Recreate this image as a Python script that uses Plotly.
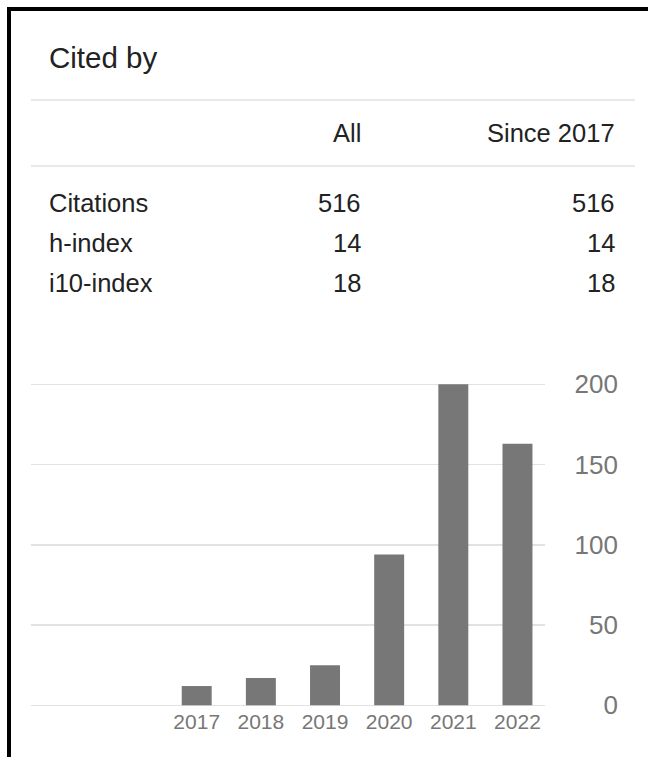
import plotly.graph_objects as go

# ---- data ----
years = [2017, 2018, 2019, 2020, 2021, 2022]
year_labels = ["2017", "2018", "2019", "2020", "2021", "2022"]
citations_per_year = [12, 17, 25, 94, 200, 163]
y_ticks = [0, 50, 100, 150, 200]

title_text = "Cited by"
col_headers = ["All", "Since 2017"]
row_labels = ["Citations", "h-index", "i10-index"]
vals_all = ["516", "14", "18"]
vals_since = ["516", "14", "18"]

# ---- geometry ----
W_FIG, H_FIG = 648, 757
L, R, T, B = 31, 0, 381, 50
PW = W_FIG - L - R
PH = H_FIG - T - B
PLOT_BOTTOM = H_FIG - B
Y0_PX, PPU = 705.3, 1.605  # pixel of value 0, pixels per unit
Y_MIN = -(PLOT_BOTTOM - Y0_PX) / PPU
Y_MAX = (Y0_PX - T) / PPU


def fx(px):
    return (px - L) / PW


def fy(py):
    return (PLOT_BOTTOM - py) / PH


FONT = "Arial, Liberation Sans, Helvetica, sans-serif"
DARK = "#222222"
GRAY = "#777777"
LINE = "#e2e2e2"

fig = go.Figure()
fig.add_trace(go.Bar(
    x=years, y=citations_per_year, width=0.467,
    marker=dict(color=GRAY, line=dict(width=0)),
    hoverinfo="skip",
))

ann = []
ann.append(dict(text=title_text, x=fx(47), y=fy(57.0), xanchor="left", yanchor="middle",
                font=dict(family=FONT, size=29.5, color=DARK)))
hdr_x = [fx(363), fx(617)]
for h, xx in zip(col_headers, hdr_x):
    ann.append(dict(text=h, x=xx, y=fy(132.8), xanchor="right", yanchor="middle",
                    font=dict(family=FONT, size=25.5, color=DARK)))
row_y = [202.8, 242.8, 282.8]
for lab, va, vs, yy in zip(row_labels, vals_all, vals_since, row_y):
    ann.append(dict(text=lab, x=fx(47), y=fy(yy), xanchor="left", yanchor="middle",
                    font=dict(family=FONT, size=25.5, color=DARK)))
    ann.append(dict(text=va, x=hdr_x[0], y=fy(yy), xanchor="right", yanchor="middle",
                    font=dict(family=FONT, size=25.5, color=DARK)))
    ann.append(dict(text=vs, x=hdr_x[1], y=fy(yy), xanchor="right", yanchor="middle",
                    font=dict(family=FONT, size=25.5, color=DARK)))
for a in ann:
    a.update(xref="paper", yref="paper", showarrow=False)

shapes = []
for yy in [100, 166]:
    shapes.append(dict(type="line", xref="paper", yref="paper",
                       x0=fx(31), x1=fx(635), y0=fy(yy), y1=fy(yy),
                       line=dict(color=LINE, width=1.5)))
# black frame (top and left edges visible)
shapes.append(dict(type="rect", xref="paper", yref="paper",
                   x0=fx(9), x1=fx(700), y0=fy(9), y1=fy(800),
                   line=dict(color="#000000", width=4)))

fig.update_layout(
    width=W_FIG, height=H_FIG,
    margin=dict(l=L, r=R, t=T, b=B, pad=0),
    paper_bgcolor="white", plot_bgcolor="white",
    showlegend=False, bargap=0.5,
    annotations=ann, shapes=shapes,
    font=dict(family=FONT),
    xaxis=dict(
        domain=[0, fx(545)], range=[2014.417, 2022.429],
        tickmode="array", tickvals=years, ticktext=year_labels,
        showgrid=False, zeroline=False, showline=False, ticks="",
        tickfont=dict(family=FONT, size=21, color=GRAY),
        fixedrange=True,
    ),
    yaxis=dict(
        anchor="free", position=fx(618), side="left",
        range=[Y_MIN, Y_MAX], tickmode="array", tickvals=y_ticks,
        showgrid=True, gridcolor=LINE, gridwidth=1.5,
        zeroline=False, showline=False, ticks="",
        tickfont=dict(family=FONT, size=26, color=GRAY),
        fixedrange=True,
    ),
)

fig.write_html("out.html",
               config={"displayModeBar": False, "staticPlot": True},
               post_script="document.body.style.margin='0';document.body.style.overflow='hidden';")
